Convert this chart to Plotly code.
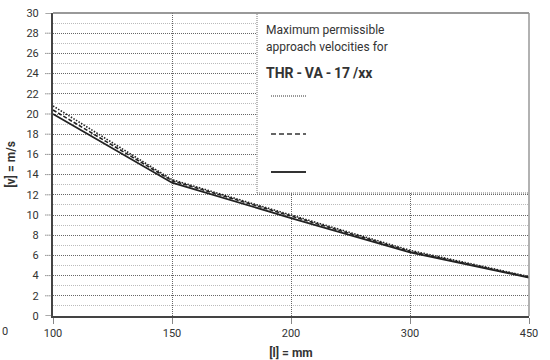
import plotly.graph_objects as go

categories = ["100", "150", "200", "300", "450"]
dotted_vals = [20.8, 13.5, 10.0, 6.5, 3.9]
dashed_vals = [20.4, 13.4, 9.9, 6.4, 3.85]
solid_vals = [20.0, 13.2, 9.7, 6.3, 3.8]
y_ticks = list(range(0, 31, 2))

FONT = "Roboto"
fig = go.Figure()
fig.add_trace(go.Scatter(x=categories, y=dotted_vals, mode="lines",
                         line=dict(color="#222", width=1.6, dash="1.5px,1.5px"), showlegend=False))
fig.add_trace(go.Scatter(x=categories, y=dashed_vals, mode="lines",
                         line=dict(color="#222", width=1.6, dash="4px,2px"), showlegend=False))
fig.add_trace(go.Scatter(x=categories, y=solid_vals, mode="lines",
                         line=dict(color="#222", width=1.8), showlegend=False))

L, R, T, B = 53, 21, 13, 44
PW, PH = 550 - L - R, 360 - T - B
def px2x(px):
    return (px - L) / PW
def py2y(py):
    return (360 - B - py) / PH

shapes = []
# left dotted tick stubs
for v in y_ticks:
    solid = v in (0, 30)
    shapes.append(dict(type="line", xref="paper", yref="y", x0=-0.016, x1=0, y0=v, y1=v,
                       line=dict(color="#555", width=1, dash="solid" if solid else "1px,1px")))
# legend box (covers grid)
bx0, by0 = px2x(257), py2y(193)
shapes.append(dict(type="rect", xref="paper", yref="paper", x0=bx0, x1=1, y0=by0, y1=1,
                   fillcolor="white", line=dict(width=0), layer="above"))
shapes.append(dict(type="line", xref="paper", yref="paper", x0=bx0, x1=bx0, y0=by0, y1=1,
                   line=dict(color="#777", width=1, dash="1px,1px")))
shapes.append(dict(type="line", xref="paper", yref="paper", x0=bx0, x1=1, y0=by0, y1=by0,
                   line=dict(color="#777", width=1, dash="1px,1px")))
# frame
shapes.append(dict(type="line", xref="paper", yref="paper", x0=0, x1=1, y0=1, y1=1,
                   line=dict(color="#777", width=1.5)))
shapes.append(dict(type="line", xref="paper", yref="paper", x0=1, x1=1, y0=0, y1=1,
                   line=dict(color="#999", width=1.5)))
# legend samples
samples = [(96, "1px,1px", 1.2), (134, "5px,3px", 1.4), (172, "solid", 1.8)]
for py, dash, w in samples:
    yp = py2y(py)
    shapes.append(dict(type="line", xref="paper", yref="paper",
                       x0=px2x(271), x1=px2x(306), y0=yp, y1=yp,
                       line=dict(color="#333", width=w, dash=dash)))

annotations = []
def ann(text, px, py, size, bold=False, xanchor="left"):
    annotations.append(dict(text=f"<b>{text}</b>" if bold else text,
                            xref="paper", yref="paper",
                            x=px2x(px), y=py2y(py),
                            xanchor=xanchor, yanchor="middle",
                            showarrow=False, font=dict(family=FONT, size=size, color="#333")))
ann("Maximum permissible", 264, 30, 12)
ann("approach velocities for", 264, 47, 12)
ann("THR\u2009-\u2009VA\u2009-\u200917\u2009/xx", 264, 73, 14, bold=True)
ann("0", 5, 331, 11, xanchor="center")

fig.update_layout(
    width=550, height=360,
    margin=dict(l=L, r=R, t=T, b=B),
    plot_bgcolor="white", paper_bgcolor="white",
    font=dict(family=FONT, size=11, color="#333"),
    shapes=shapes, annotations=annotations,
    xaxis=dict(type="category", range=[0, 4], showgrid=True, gridcolor="#666",
               griddash="1px,1px", gridwidth=1, showline=True, linecolor="#444", linewidth=2,
               ticks="outside", ticklen=6, tickcolor="#888", zeroline=False, automargin=False,
               title=dict(text="<b>[l] = mm</b>", font=dict(size=12), standoff=12)),
    yaxis=dict(range=[0, 30], tickvals=y_ticks, showgrid=True, gridcolor="#666",
               griddash="1px,1px", gridwidth=1, showline=True, linecolor="#444", linewidth=2,
               ticks="", ticklabelstandoff=10, zeroline=False, automargin=False,
               minor=dict(dtick=1, tick0=0, showgrid=True, gridcolor="#bbb", griddash="1px,1px"),
               title=dict(text="<b>[v] = m/s</b>", font=dict(size=12), standoff=8)),
)
fig.write_html("out.html")
